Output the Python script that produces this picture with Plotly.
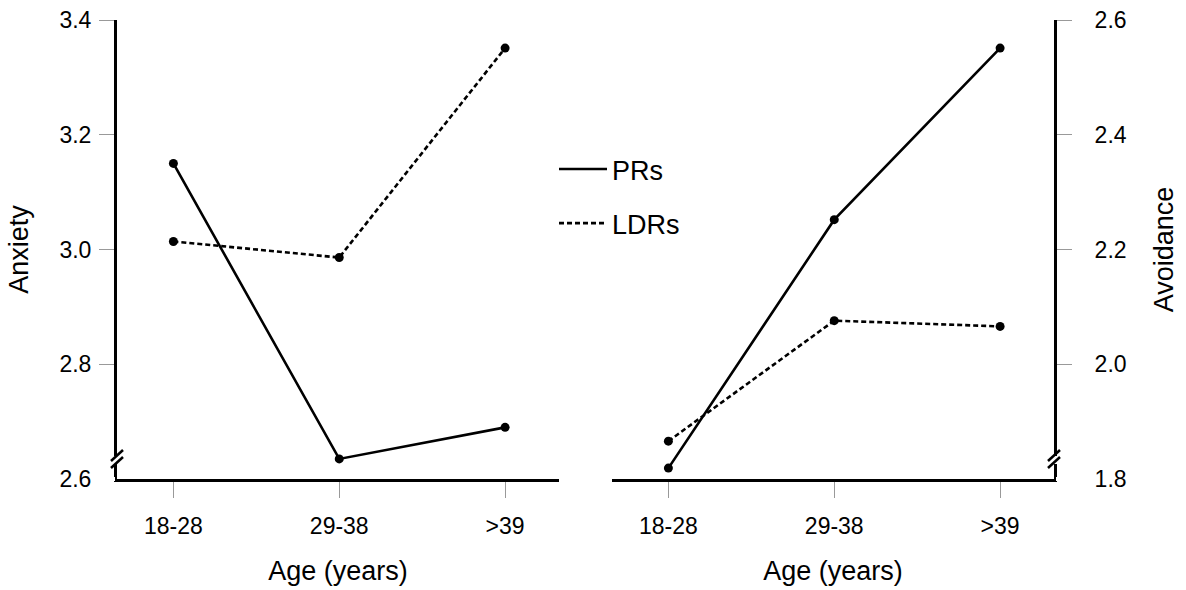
import plotly.graph_objects as go

age_groups = ["18-28", "29-38", ">39"]
anxiety_prs = [3.150, 2.635, 2.690]
anxiety_ldrs = [3.014, 2.986, 3.351]
avoidance_prs = [1.819, 2.252, 2.551]
avoidance_ldrs = [1.866, 2.076, 2.066]
anx_ticks = [2.6, 2.8, 3.0, 3.2, 3.4]
avo_ticks = [1.8, 2.0, 2.2, 2.4, 2.6]

FONT = "Liberation Sans, Arial, sans-serif"
W, H = 1186, 590
# plot area in pixels
SX0, SX1, SY0, SY1 = 117, 1054, 20, 479
L, T = SX0, SY0
R, B = W - SX1, H - SY1
PW = SX1 - SX0
PH = SY1 - SY0

def px_x(p):
    return (p - SX0) / PW

def px_y(p):
    return (SY1 - p) / PH

fig = go.Figure()

def add_series(x, y, xa, ya, name, dash, show):
    fig.add_trace(go.Scatter(x=x, y=y, mode="lines", name=name, legendgroup=name,
                             showlegend=show, xaxis=xa, yaxis=ya,
                             line=dict(color="black", width=2.6, dash=dash)))
    fig.add_trace(go.Scatter(x=x, y=y, mode="markers", name=name, legendgroup=name,
                             showlegend=False, xaxis=xa, yaxis=ya,
                             marker=dict(color="black", size=9)))

add_series(age_groups, anxiety_prs, "x", "y", "PRs", "solid", True)
add_series(age_groups, anxiety_ldrs, "x", "y", "LDRs", "5px,3px", True)
add_series(age_groups, avoidance_prs, "x2", "y2", "PRs", "solid", False)
add_series(age_groups, avoidance_ldrs, "x2", "y2", "LDRs", "5px,3px", False)

title_font = dict(size=27, color="black", family=FONT)
tick_font = dict(size=23, color="black", family=FONT)

xcommon = dict(type="category", range=[-0.34, 2.325], showline=True, linecolor="black",
               linewidth=3, ticks="outside", ticklen=16, tickcolor="#999", tickwidth=1,
               tickfont=tick_font, ticklabelstandoff=8,
               showgrid=False, zeroline=False, automargin=False,
               title=dict(text="Age (years)", font=title_font, standoff=24))
ycommon = dict(showline=True, linecolor="black", linewidth=3,
               ticks="outside", ticklen=15, tickcolor="#999", tickwidth=1,
               tickfont=tick_font, ticklabeloverflow="allow",
               showgrid=False, zeroline=False, automargin=False, tickformat=".1f")

fig.update_layout(
    width=W, height=H,
    margin=dict(l=L, r=R, t=T, b=B),
    paper_bgcolor="white", plot_bgcolor="white",
    font=dict(family=FONT, color="black"),
    xaxis=dict(domain=[0, px_x(559)], anchor="y", **xcommon),
    xaxis2=dict(domain=[px_x(612), 1], anchor="y2", **xcommon),
    yaxis=dict(**ycommon, range=[2.6, 3.4], anchor="x", side="left", tickvals=anx_ticks,
               ticklabelstandoff=3,
               title=dict(text="Anxiety", font=title_font, standoff=23)),
    yaxis2=dict(**ycommon, range=[1.8, 2.6], anchor="x2", side="right", tickvals=avo_ticks,
                ticklabelstandoff=18,
                title=dict(text="Avoidance", font=title_font, standoff=29)),
    showlegend=True,
    legend=dict(x=px_x(554), y=px_y(145), xanchor="left", yanchor="top",
                font=dict(size=27, color="black", family=FONT), tracegroupgap=16,
                bgcolor="rgba(0,0,0,0)", itemwidth=48),
)

shapes = []
# hide tick marks at the broken baseline values
shapes.append(dict(type="rect", xref="paper", yref="paper", x0=px_x(99), x1=px_x(115),
                   y0=px_y(481), y1=px_y(477), fillcolor="white", line=dict(width=0), layer="above"))
shapes.append(dict(type="rect", xref="paper", yref="paper", x0=px_x(1056), x1=px_x(1072),
                   y0=px_y(481), y1=px_y(477), fillcolor="white", line=dict(width=0), layer="above"))
# axis break marks "//"
for ax in (SX0, SX1):
    shapes.append(dict(type="rect", xref="paper", yref="paper", x0=px_x(ax - 3), x1=px_x(ax + 3),
                       y0=px_y(464), y1=px_y(456), fillcolor="white", line=dict(width=0), layer="above"))
    for (ya, yb) in ((468, 457), (461, 450)):
        shapes.append(dict(type="line", xref="paper", yref="paper",
                           x0=px_x(ax - 6), x1=px_x(ax + 6), y0=px_y(ya), y1=px_y(yb),
                           line=dict(color="black", width=2.5), layer="above"))
fig.update_layout(shapes=shapes)

fig.write_html("out.html", config={"displayModeBar": False},
               post_script="document.body.style.margin='0';document.body.style.overflow='hidden';")
